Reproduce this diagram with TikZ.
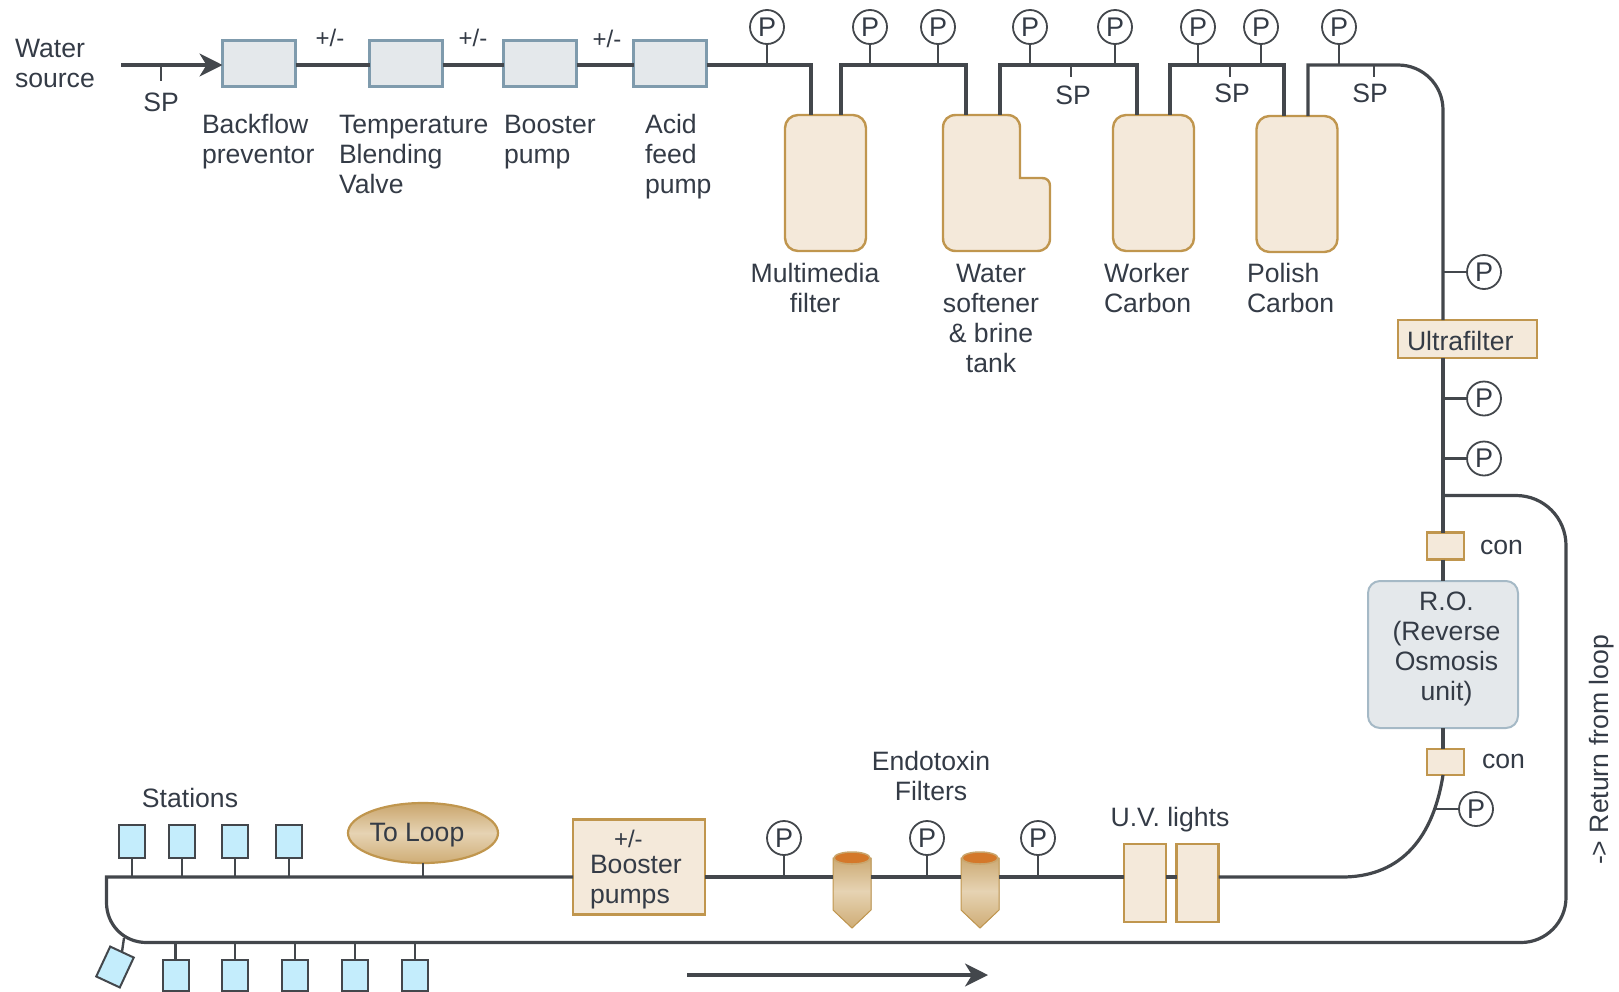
\documentclass[tikz,border=0pt]{standalone}
\usepackage{fontspec}
\setmainfont{Liberation Sans}
\usetikzlibrary{arrows.meta,calc,shapes.geometric}
\definecolor{ink}{HTML}{343B46}
\definecolor{pipec}{HTML}{43474C}
\definecolor{tanf}{HTML}{F4E9DA}
\definecolor{tand}{HTML}{C0964E}
\definecolor{bluef}{HTML}{E4E8EB}
\definecolor{blued}{HTML}{7F9BAD}
\definecolor{statf}{HTML}{C4EDFC}
\definecolor{goldt}{HTML}{C9A56C}
\definecolor{goldm}{HTML}{E6D3B3}
\definecolor{goldb}{HTML}{CFAD76}
\definecolor{capc}{HTML}{D4782A}
\tikzset{
 every node/.style={text=ink,font=\fontsize{26.6}{30}\selectfont,inner sep=0pt,outer sep=0pt},
 pipe/.style={draw=pipec,line width=3.2pt},
 tick/.style={draw=pipec,line width=2.4pt},
 gauge/.style={circle,draw=pipec,fill=white,line width=1.8pt,minimum size=34pt,font=\fontsize{27}{30}\selectfont},
 lab/.style={anchor=west,align=left},
 clab/.style={align=center},
 graybox/.style={rectangle,draw=blued,fill=bluef,line width=2.2pt,minimum width=73pt,minimum height=46pt},
 tanbox/.style={rectangle,draw=tand,fill=tanf,line width=2.4pt},
 tank/.style={rectangle,rounded corners=13pt,draw=tand,fill=tanf,line width=2.4pt,minimum width=81pt,minimum height=136pt},
 station/.style={rectangle,draw=pipec,fill=statf,line width=2pt,minimum width=26pt,minimum height=33pt},
 flow/.style={pipe,-{Stealth[length=23pt,width=23pt,inset=7pt]}},
}
\newcommand{\filterat}[2]{%
 \node[minimum width=38pt,minimum height=74pt] (#1) at (#2,891) {};
 \fill[top color=goldt,bottom color=goldb,middle color=goldm,draw=tand,line width=1pt]
   (#1.north west) ++(0,4) -- ($(#1.south west)+(0,-18)$) -- (#1.south) -- ($(#1.south east)+(0,-18)$) -- ($(#1.north east)+(0,4)$) -- cycle;
 \fill[draw=goldt,line width=1.5pt,fill=capc] ($(#1.north)+(0,4)$) ellipse [x radius=18pt,y radius=6pt];
}
\begin{document}
\begin{tikzpicture}[x=1pt,y=-1pt]
\useasboundingbox (0,0) rectangle (1619,991);
% named junctions
\coordinate (src) at (121,65);
\coordinate (j1) at (811,65); \coordinate (j2) at (841,65); \coordinate (j3) at (966,65);
\coordinate (j4) at (1000,65); \coordinate (j5) at (1137,65); \coordinate (j6) at (1170,65);
\coordinate (j7) at (1284,65); \coordinate (j8) at (1308,65);
\coordinate (vx) at (1443,65);
\coordinate (br) at (1443,495.5);
\coordinate (bot) at (0,877);
\coordinate (ret) at (0,942.5);
\coordinate (arrA) at (687,975); \coordinate (arrB) at (988,975);
% boxes top row
\node[graybox] (b1) at (259,63.5) {};
\node[graybox] (b2) at (406,63.5) {};
\node[graybox] (b3) at (540,63.5) {};
\node[graybox] (b4) at (670,63.5) {};
% tanks
\node[tank] (t1) at (825.5,183) {};
\node[minimum width=107pt,minimum height=136pt] (t2) at (996.5,183) {};
\draw[tand,fill=tanf,line width=2.4pt]
  (943,128) -- (943,238) .. controls (943,246) and (948,251) .. (956,251) -- (1037,251)
  .. controls (1045,251) and (1050,246) .. (1050,238) -- (1050,186)
  .. controls (1050,181) and (1047,178) .. (1042,178) -- (1020,178) -- (1020,128)
  .. controls (1020,120) and (1015,115) .. (1007,115) -- (956,115) .. controls (948,115) and (943,120) .. cycle;
\node[tank] (t3) at (1153.5,183) {};
\node[tank] (t4) at (1297,184) {};
% top pipes
\draw[flow] (src) -- (b1.west |- src);
\draw[pipe] (b1.east |- src) -- (b2.west |- src);
\draw[pipe] (b2.east |- src) -- (b3.west |- src);
\draw[pipe] (b3.east |- src) -- (b4.west |- src);
\draw[pipe] (b4.east |- src) -- (j1) -- (j1 |- t1.north);
\draw[pipe] (j2 |- t1.north) -- (j2) -- (j3) -- (j3 |- t2.north);
\draw[pipe] (j4 |- t2.north) -- (j4) -- (j5) -- (j5 |- t3.north);
\draw[pipe] (j6 |- t3.north) -- (j6) -- (j7) -- (j7 |- t4.north);
% gauges top
\foreach \n/\x in {p1/767,p2/870,p3/938,p4/1030,p5/1115,p6/1198,p7/1261,p8/1339}{
  \node[gauge] (\n) at (\x,27) {P};
  \draw[tick] (\n.south) -- (\n.south |- src);
}
% SP ticks
\node (sp0) at (161,102) {SP};
\coordinate (sq0) at (161,65); \draw[tick] (sq0) -- ++(0,16);
\node (sp1) at (1073,95.5) {SP};
\node (sp2) at (1232,93.5) {SP};
\node (sp3) at (1370,93.5) {SP};
\coordinate (k1) at (1071,65); \coordinate (k2) at (1230,65); \coordinate (k3) at (1374,65);
\draw[tick] (k1) -- ++(0,12);
\draw[tick] (k2) -- ++(0,12);
\draw[tick] (k3) -- ++(0,12);
% labels top
\node[lab] at (15,63) {Water\\source};
\node at (330,38) {\fontsize{24}{28}\selectfont +/-};
\node at (473,38) {\fontsize{24}{28}\selectfont +/-};
\node at (607,39) {\fontsize{24}{28}\selectfont +/-};
\node[lab] at (202,141.5) {Backflow\\preventor};
\node[lab] at (339,154) {Temperature\\Blending\\Valve};
\node[lab] at (504,142.5) {Booster\\pump};
\node[lab] at (645,157) {Acid\\feed\\pump};
\node[clab] at (815,288) {Multimedia\\filter};
\node[clab] at (991,318) {Water\\softener\\\&{} brine\\tank};
\node[lab] at (1104,288) {Worker\\Carbon};
\node[lab] at (1247,288) {Polish\\Carbon};
% right column
\node[tanbox,minimum width=139pt,minimum height=38pt] (uf) at (1467.5,339) {};
\node[anchor=west] at (1407,340.5) {Ultrafilter};
\node[tanbox,minimum width=37pt,minimum height=27pt] (c1) at (1445.5,546) {};
\node[rectangle,rounded corners=12pt,draw=blued!70,fill=bluef,line width=2pt,minimum width=150pt,minimum height=147pt] (ro) at (1443,654.5) {};
\node[clab] at (1446.5,649) {R.O.\\(Reverse\\Osmosis\\unit)};
\node[tanbox,minimum width=37pt,minimum height=26pt] (c2) at (1445.5,762) {};
\node[lab] at (1480,547.5) {con};
\node[lab] at (1482,761.5) {con};
\draw[pipe] (j8 |- t4.north) -- (j8) -- (1398,65) .. controls (1423,65) and (1443,85) .. (1443,110) -- (vx |- uf.north);
\draw[pipe] (vx |- uf.south) -- (br) -- (vx |- c1.north);
\draw[pipe] (vx |- c1.south) -- (vx |- ro.north);
\draw[pipe] (vx |- ro.south) -- (vx |- c2.north);
\foreach \n/\y in {g1/272,g2/398.5,g3/458.5}{
  \node[gauge] (\n) at (1484,\y) {P};
  \draw[tick] (\n.west) -- (vx |- \n);
}
% return loop
\node[tanbox,minimum width=132pt,minimum height=95pt] (bp) at (639,867) {};
\node[lab] at (590,869.5) {\hspace*{24pt}\fontsize{24}{24}\selectfont +/-\\[-4pt]Booster\\pumps};
\draw[pipe] (br) -- (1516,495.5) .. controls (1544,495.5) and (1566,518) .. (1566,545.5) -- (1566,897.5)
  .. controls (1566,922) and (1546,942.5) .. (1521,942.5) -- (146.5,942.5)
  .. controls (124,942.5) and (106.5,925) .. (106.5,902.5) -- (106.5,877) -- (bp.west |- bot);
% U.V.
\node[tanbox,minimum width=42pt,minimum height=78pt] (u1) at (1145,883) {};
\node[tanbox,minimum width=42pt,minimum height=78pt] (u2) at (1197.5,883) {};
\draw[pipe] (u1.east |- bot) -- (u2.west |- bot);
\node at (1170,820) {U.V. lights};
% filters
\filterat{f1}{852}
\filterat{f2}{980}
\draw[pipe] (bp.east |- bot) -- (f1.west |- bot);
\draw[pipe] (f1.east |- bot) -- (f2.west |- bot);
\draw[pipe] (f2.east |- bot) -- (u1.west |- bot);
\draw[pipe] (u2.east |- bot) -- (1342,877) .. controls (1395,877) and (1432,845) .. (vx |- c2.south);
\node[gauge] (g4) at (1476,809) {P};
\coordinate (g4j) at (1435,809);
\draw[tick] (g4.west) -- (g4j);
\foreach \n/\x in {g5/784,g6/927,g7/1038}{
  \node[gauge] (\n) at (\x,838) {P};
  \draw[tick] (\n.south) -- (\n.south |- bot);
}
\node[clab] at (931,775.5) {Endotoxin\\Filters};
% to loop
\node[ellipse,minimum width=150pt,minimum height=60pt,draw=tand,line width=2.2pt,top color=goldt,bottom color=goldb,middle color=goldm] (tl) at (423,833) {};
\node at (417,835) {To Loop};
\draw[tick] (tl.south) -- (tl.south |- bot);
% stations
\node at (190,797.5) {Stations};
\foreach \n/\x in {s1/132,s2/182,s3/235,s4/289}{
  \node[station] (\n) at (\x,841) {};
  \draw[tick] (\n.south) -- (\n.south |- bot);
}
\foreach \n/\x in {r1/175.5,r2/235,r3/295,r4/355,r5/415}{
  \node[station,minimum height=31pt] (\n) at (\x,975) {};
  \draw[tick] (\n.north) -- (\n.north |- ret);
}
\node[station,rotate=-25] (rt) at (115,967) {};
\coordinate (rtj) at (124,938);
\draw[tick] (rt.north) -- (rtj);
% bottom arrow
\draw[flow] (arrA) -- (arrB);
\node[rotate=90] at (1601.5,750) {-> Return from loop};
\end{tikzpicture}
\end{document}
